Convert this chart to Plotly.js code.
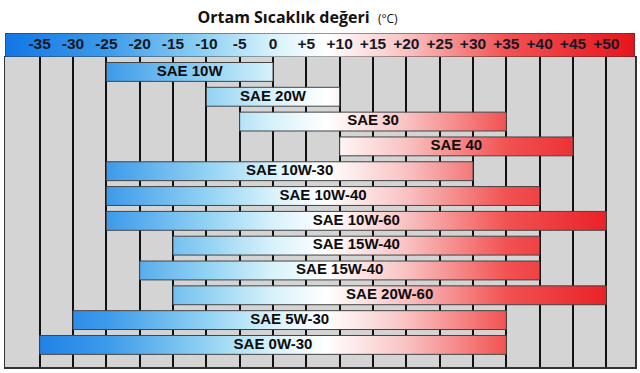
<!DOCTYPE html>
<html>
<head>
<meta charset="utf-8">
<script src="https://cdn.plot.ly/plotly-3.0.1.min.js"></script>
<style>html,body{margin:0;padding:0;background:#fff;}#chart{width:640px;height:373px;}</style>
</head>
<body>
<div id="chart"></div>
<script>
// ---- data ----
const oils = ['SAE 10W','SAE 20W','SAE 30','SAE 40','SAE 10W-30','SAE 10W-40','SAE 10W-60','SAE 15W-40','SAE 15W-40','SAE 20W-60','SAE 5W-30','SAE 0W-30'];
const minTemp = [-25,-10,-5,10,-25,-25,-25,-15,-20,-15,-30,-35];
const maxTemp = [0,10,35,45,30,40,50,40,40,50,35,35];
const tickVals = [-35,-30,-25,-20,-15,-10,-5,0,5,10,15,20,25,30,35,40,45,50];
const tickLabels = ['-35','-30','-25','-20','-15','-10','-5','0','+5','+10','+15','+20','+25','+30','+35','+40','+45','+50'];

// ---- style ----
const X0 = -40.2, X1 = 54.3;
const norm = v => (v - X0) / (X1 - X0);
const colorscale = [
  [0, '#1276e6'],
  [norm(-25), '#3c9aea'],
  [norm(-10), '#92d2f3'],
  [norm(0), '#d8f2fb'],
  [norm(8), '#ffffff'],
  [norm(20), '#f9c2c2'],
  [norm(35), '#f25252'],
  [1, '#e6141c']
];
const grad = {type:'horizontal', colorscale: colorscale, start: X0, stop: X1};
const FONT = '"Liberation Sans", Arial, sans-serif';
const h = 0.38;

const traces = [];
// header band
traces.push({
  type:'scatter', mode:'lines', xaxis:'x2', yaxis:'y2',
  x:[X0, X1, X1, X0, X0], y:[0,0,1,1,0],
  fill:'toself', fillgradient: grad,
  line:{color:'#333', width:1}, hoverinfo:'skip', showlegend:false
});
traces.push({
  type:'scatter', mode:'text', xaxis:'x2', yaxis:'y2',
  x: tickVals, y: tickVals.map(() => 0.5), text: tickLabels,
  textposition:'middle center',
  textfont:{family: FONT, size:15.5, color:'#151825', weight:'bold'},
  hoverinfo:'skip', showlegend:false
});
// bars
oils.forEach((name, i) => {
  traces.push({
    type:'scatter', mode:'lines',
    x:[minTemp[i], maxTemp[i], maxTemp[i], minTemp[i], minTemp[i]],
    y:[i-h, i-h, i+h, i+h, i-h],
    fill:'toself', fillgradient: grad,
    line:{color:'#444', width:1}, hoverinfo:'skip', showlegend:false
  });
});
traces.push({
  type:'scatter', mode:'text',
  x: oils.map((_, i) => (minTemp[i] + maxTemp[i]) / 2),
  y: oils.map((_, i) => i),
  text: oils, textposition:'middle center',
  textfont:{family: FONT, size:15, color:'#0c0c0c', weight:'bold'},
  hoverinfo:'skip', showlegend:false
});

const layout = {
  width:640, height:373,
  margin:{l:5, r:5, t:33, b:6, pad:0},
  paper_bgcolor:'#ffffff', plot_bgcolor:'#d4d4d4',
  showlegend:false,
  title:{
    text:'<b>Ortam Sıcaklık değeri</b>  <span style="font-size:12px;font-weight:normal">(°C)</span>',
    font:{family:'"Open Sans", sans-serif', size:16, color:'#111'},
    xref:'container', x:0.465, xanchor:'center',
    yref:'container', y:0.953, yanchor:'middle'
  },
  xaxis:{
    domain:[0,1], anchor:'y', range:[X0, X1],
    tickvals: tickVals, showticklabels:false, ticks:'',
    showgrid:true, gridcolor:'#111111', gridwidth:2,
    zeroline:false, showline:true, mirror:true, linecolor:'#333', linewidth:1.5
  },
  yaxis:{
    domain:[0, 0.928], range:[11.89, -0.6],
    showticklabels:false, ticks:'', showgrid:false, zeroline:false,
    showline:true, mirror:true, linecolor:'#333', linewidth:1.5
  },
  xaxis2:{anchor:'y2', range:[X0, X1], visible:false},
  yaxis2:{domain:[0.928, 1], range:[0,1], visible:false}
};

Plotly.newPlot('chart', traces, layout, {staticPlot:true, displayModeBar:false});
</script>
</body>
</html>
